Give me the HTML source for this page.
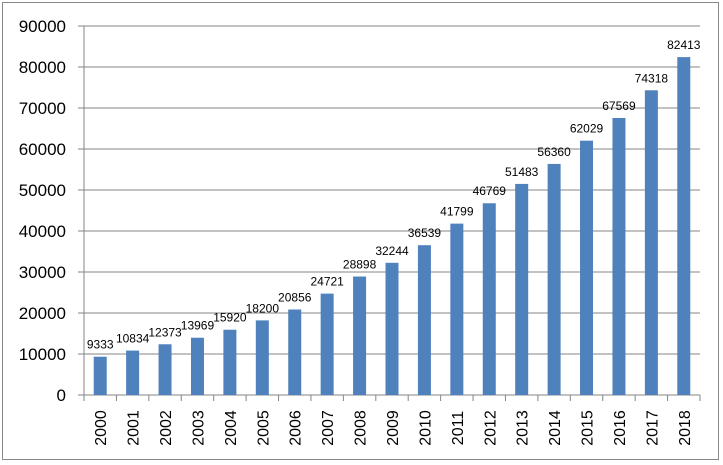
<!DOCTYPE html>
<html><head><meta charset="utf-8"><style>
body{margin:0;background:#fff;}
svg{display:block;font-family:"Liberation Sans",Calibri,sans-serif;}
</style></head><body>
<svg id="chart" width="723" height="465">
<rect x="2.5" y="2.5" width="716" height="457" fill="#fff" stroke="#888"/>
<g id="grid"></g><g id="bars"></g><g id="labels"></g><g id="axes"></g>
</svg>
<script>
const categories=["2000","2001","2002","2003","2004","2005","2006","2007","2008","2009","2010","2011","2012","2013","2014","2015","2016","2017","2018"];
const values=[9333,10834,12373,13969,15920,18200,20856,24721,28898,32244,36539,41799,46769,51483,56360,62029,67569,74318,82413];
const yTicks=[0,10000,20000,30000,40000,50000,60000,70000,80000,90000];
const L=84,R=700,Y0=395,YTOP=26,YMAX=90000;
const ns="http://www.w3.org/2000/svg";
const step=(R-L)/categories.length;
function y(v){return Y0-(v/YMAX)*(Y0-YTOP);}
function x(i){return L+step*(i+0.5);}
function mk(t,a,p){const e=document.createElementNS(ns,t);for(const k in a)e.setAttribute(k,a[k]);document.getElementById(p).appendChild(e);return e;}
yTicks.forEach(v=>{
 const g=mk("line",{x1:L-6,x2:R,y1:y(v),y2:y(v),stroke:"#868686","stroke-width":1},"grid");
 
 
 const t=mk("text",{x:66,y:y(v)+6,"text-anchor":"end","font-size":17,fill:"#000"},"axes");
 t.textContent=v;
 
 
});
const ax=mk("line",{x1:L,x2:L,y1:YTOP,y2:Y0,stroke:"#868686"},"axes");


const bw=13;
categories.forEach((c,i)=>{
 const b=mk("rect",{x:x(i)-bw/2,y:y(values[i]),width:bw,height:Y0-y(values[i]),fill:"#4f81bd"},"bars");
 
 
 const t=mk("text",{x:x(i),y:y(values[i])-8,"text-anchor":"middle","font-size":12,fill:"#000"},"labels");
 t.textContent=values[i];
 
 
 const tk=mk("line",{x1:L+step*i,x2:L+step*i,y1:Y0,y2:Y0+6,stroke:"#868686"},"axes");
 
 
 const xl=mk("text",{x:0,y:0,"text-anchor":"middle","font-size":16,fill:"#000",transform:"translate("+(x(i)+6)+",428) rotate(-90)"},"axes");
 xl.textContent=c;
 
 
});
const tkE=mk("line",{x1:R,x2:R,y1:Y0,y2:Y0+6,stroke:"#868686"},"axes");


</script>
</body></html>
